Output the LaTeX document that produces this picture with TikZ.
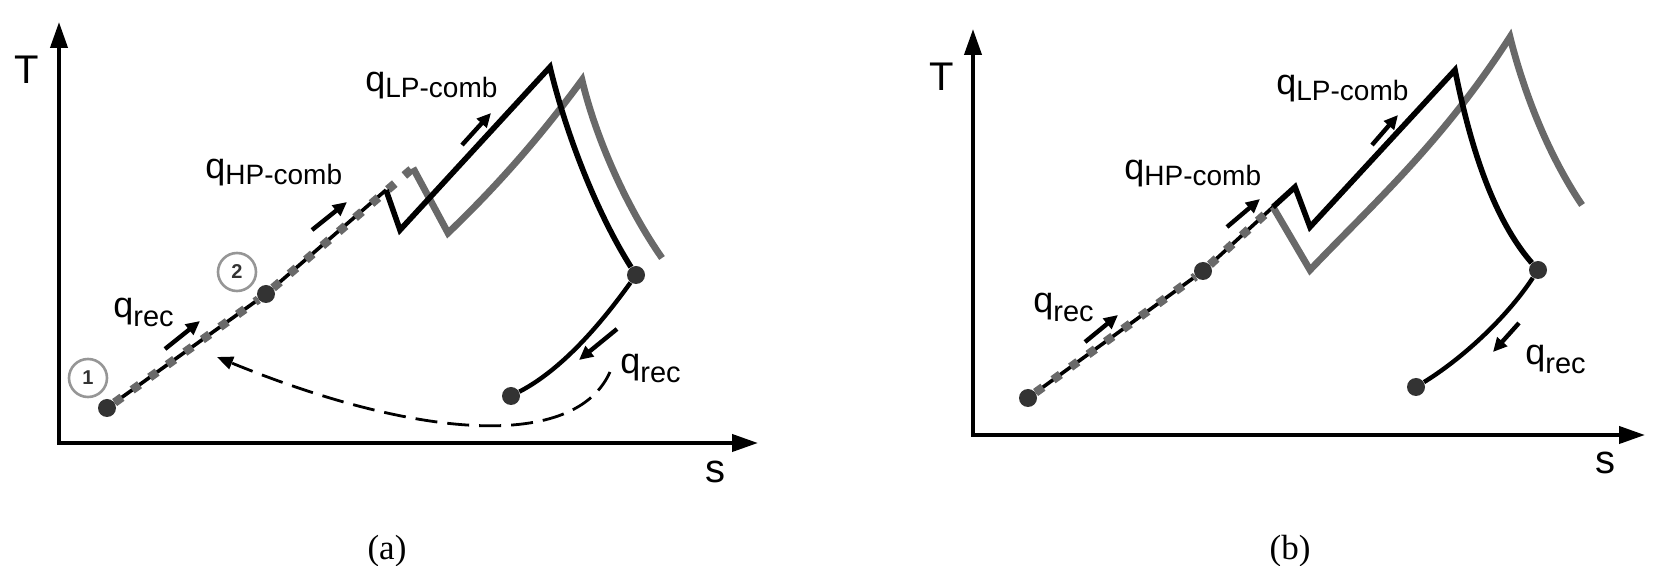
\documentclass[tikz,border=0pt]{standalone}
\usepackage{fontspec}
\setmainfont{Liberation Sans}
\newfontfamily\captionserif{Liberation Serif}
\usetikzlibrary{arrows.meta, backgrounds}
\definecolor{CycleGrey}{RGB}{105,105,105}
\definecolor{StateDark}{RGB}{51,51,51}
\definecolor{RingGrey}{RGB}{150,150,150}
\newcommand{\qrec}{q\raisebox{-4.5pt}{\fontsize{14.5}{16}\selectfont rec}}
\newcommand{\qcomb}[1]{q\raisebox{-3pt}{\fontsize{14}{16}\selectfont #1-comb}}

\begin{document}
\begin{tikzpicture}[x=0.5pt, y=-0.5pt, line cap=round, line join=round,
  axisline/.style={line width=2pt, line cap=butt, line join=miter, {Triangle[length=13pt,width=8.5pt]}-{Triangle[length=13pt,width=8.5pt]}},
  state/.style={circle, fill=StateDark, minimum size=9pt, inner sep=0pt},
  ring/.style={circle, draw=RingGrey, line width=1.3pt, minimum size=19pt, inner sep=0pt, text=StateDark, font=\fontsize{10}{10}\selectfont\bfseries},
  blk/.style={line width=2.8pt},
  gry/.style={line width=3.4pt, draw=CycleGrey},
  under/.style={line width=1.8pt},
  dashgry/.style={line width=4.3pt, draw=CycleGrey, dash pattern=on 4.5pt off 6.3pt},
  heat/.style={line width=2.2pt, line cap=butt, -{Triangle[length=7pt,width=6.5pt]}},
  recup/.style={line width=1.4pt, line cap=butt, dash pattern=on 11pt off 5pt, -{Triangle[length=8pt,width=6.5pt]}},
  lbl/.style={anchor=base west, inner sep=0pt, font=\fontsize{18}{20}\selectfont},
  axlbl/.style={inner sep=0pt, font=\fontsize{20}{22}\selectfont},
  panellbl/.style={inner sep=0pt, font=\captionserif\fontsize{17.5}{20}\selectfont}]

\useasboundingbox (0,0) rectangle (1662,566);

% (a)
\coordinate (ao) at (59,443);
\coordinate (aT) at (59,22);
\coordinate (aS) at (758,443);
\draw[axisline] (aT) -- (ao) -- (aS);
\node[axlbl] (aTl) at (27,70) {T};
\node[axlbl] (aSl) at (715,472) {s};
\node[panellbl] (apan) at (387,551) {(a)};

\node[state] (a1) at (107,408) {};
\node[state] (a2) at (266,294) {};
\node[state] (a3) at (636,275) {};
\node[state] (a4) at (511,396) {};
\node[ring] (ar1) at (88,378) {1};
\node[ring] (ar2) at (237,272) {2};

\coordinate (ag0) at (413,168);
\coordinate (ag1) at (448,233);
\coordinate (ag2) at (582,80);
\coordinate (ag3) at (662,258);
\coordinate (ak0) at (386,190);
\coordinate (ak1) at (400,230);
\coordinate (ak2) at (550,67);
\coordinate (aret0) at (610,372);
\coordinate (aret1) at (217,357);

\begin{scope}[on background layer]
\draw[under] (a1) -- (a2) -- (ak0);
\draw[dashgry] (a1) -- (a2) -- (ag0);
\draw[gry] (ag0) -- (ag1) .. controls (493,190) and (538,140) .. (ag2) .. controls (595,135) and (625,205) .. (ag3);
\draw[blk] (ak0) -- (ak1) -- (ak2) .. controls (565,130) and (595,210) .. (a3);
\draw[blk, line width=2.2pt] (a3) .. controls (605,318) and (565,368) .. (a4);
\draw[recup] (aret0) .. controls (575,450) and (420,440) .. (aret1);
\end{scope}

\coordinate (arec0) at (165,349); \coordinate (arec1) at (200,321);
\coordinate (ahp0) at (312,230); \coordinate (ahp1) at (347,202);
\coordinate (alp0) at (462,145); \coordinate (alp1) at (491,113);
\coordinate (aout0) at (617,329); \coordinate (aout1) at (579,360);
\draw[heat] (arec0) -- (arec1);
\draw[heat] (ahp0) -- (ahp1);
\draw[heat] (alp0) -- (alp1);
\draw[heat] (aout0) -- (aout1);
\node[lbl] (aqrec) at (113,318) {\qrec};
\node[lbl] (aqhp) at (205,179) {\qcomb{HP}};
\node[lbl] (aqlp) at (365,92) {\qcomb{LP}};
\node[lbl] (aqout) at (620,374) {\qrec};

% (b)
\coordinate (bo) at (973,435);
\coordinate (bT) at (973,29);
\coordinate (bS) at (1645,435);
\draw[axisline] (bT) -- (bo) -- (bS);
\node[axlbl] (bTl) at (942,77) {T};
\node[axlbl] (bSl) at (1605,463) {s};
\node[panellbl] (bpan) at (1290,551) {(b)};

\node[state] (b1) at (1028,398) {};
\node[state] (b2) at (1203,271) {};
\node[state] (b3) at (1538,270) {};
\node[state] (b4) at (1416,387) {};

\coordinate (bg0) at (1273,207);
\coordinate (bg1) at (1310,270);
\coordinate (bg2) at (1510,37);
\coordinate (bg3) at (1582,205);
\coordinate (bk0) at (1295,187);
\coordinate (bk1) at (1310,227);
\coordinate (bk2) at (1455,70);

\begin{scope}[on background layer]
\draw[under] (b1) -- (b2) -- (bg0);
\draw[dashgry] (b1) -- (b2) -- (bg0);
\draw[gry] (bg0) -- (bg1) .. controls (1377,200) and (1443,141) .. (bg2) .. controls (1522,85) and (1545,150) .. (bg3);
\draw[blk] (bg0) -- (bk0) -- (bk1) -- (bk2) .. controls (1468,135) and (1490,215) .. (b3);
\draw[blk, line width=2.2pt] (b3) .. controls (1505,320) and (1460,360) .. (b4);
\end{scope}

\coordinate (brec0) at (1085,342); \coordinate (brec1) at (1118,315);
\coordinate (bhp0) at (1227,227); \coordinate (bhp1) at (1260,199);
\coordinate (blp0) at (1372,145); \coordinate (blp1) at (1398,115);
\coordinate (bout0) at (1519,323); \coordinate (bout1) at (1493,352);
\draw[heat] (brec0) -- (brec1);
\draw[heat] (bhp0) -- (bhp1);
\draw[heat] (blp0) -- (blp1);
\draw[heat] (bout0) -- (bout1);
\node[lbl] (bqrec) at (1033,313) {\qrec};
\node[lbl] (bqhp) at (1124,180) {\qcomb{HP}};
\node[lbl] (bqlp) at (1276,95) {\qcomb{LP}};
\node[lbl] (bqout) at (1525,365) {\qrec};
\end{tikzpicture}
\end{document}
